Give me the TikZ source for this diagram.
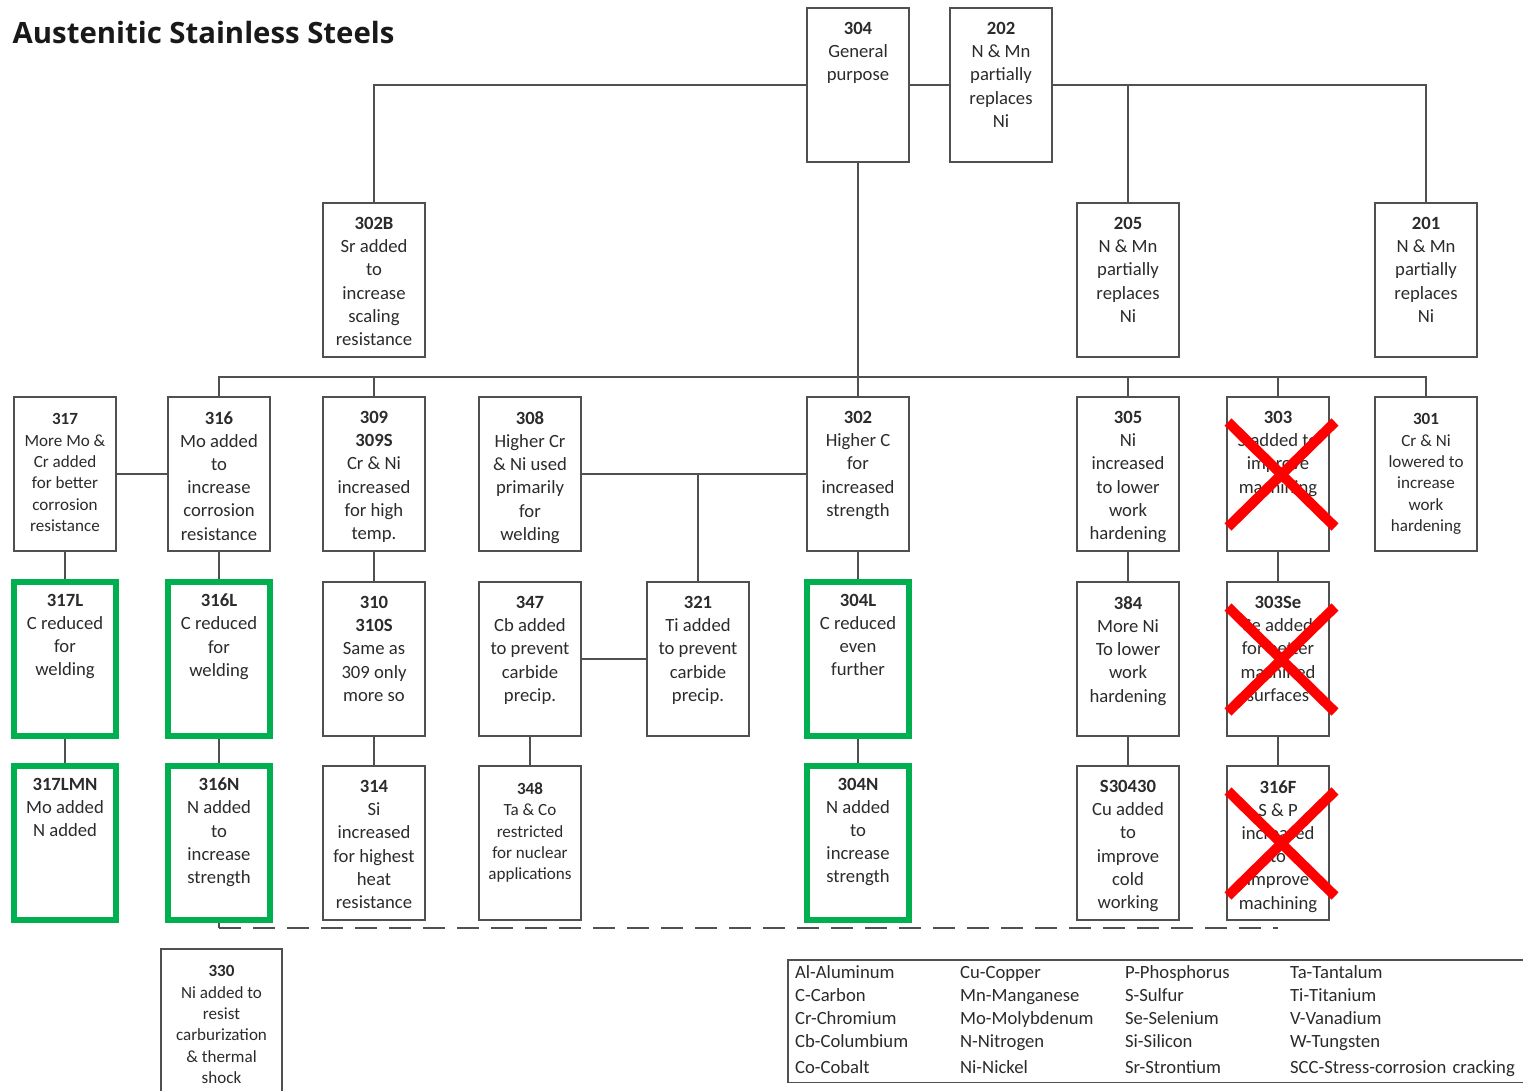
\documentclass[tikz,border=0pt]{standalone}
\usepackage{fontspec}
\setmainfont{Carlito}
\newfontfamily\titlefont{Open Sans}
\usetikzlibrary{positioning}
\definecolor{boxgray}{HTML}{505050}
\definecolor{inkgray}{HTML}{2B2B2B}
\definecolor{okgreen}{HTML}{00B050}
\tikzstyle{gradetext}=[anchor=north, align=center, inner sep=0pt, yshift=-11.25pt, text=inkgray, font=\fontsize{14}{17.4}\selectfont]
\tikzstyle{smalltext}=[anchor=north, align=center, inner sep=0pt, yshift=-13pt, text=inkgray, font=\fontsize{12.8}{16}\selectfont]
\tikzset{
  grade/.style={draw=boxgray, line width=1.4pt, minimum width=76.5pt, minimum height=115.5pt, inner sep=0pt, label={[gradetext]north:#1}},
  smallgrade/.style={draw=boxgray, line width=1.4pt, minimum width=76.5pt, minimum height=115.5pt, inner sep=0pt, label={[smalltext]north:#1}},
  okgrade/.style={draw=okgreen, line width=5pt, minimum width=76.5pt, minimum height=115.5pt, inner sep=0pt, label={[gradetext]north:#1}}
}
\tikzstyle{link}=[draw=boxgray, line width=1.1pt]
\tikzstyle{strike}=[draw=red, line width=7.5pt]

\begin{document}
\begin{tikzpicture}[x=0.75pt, y=-0.75pt]
    \useasboundingbox (0,0) rectangle (1523,1090);
    \node[anchor=west, font=\titlefont\bfseries\fontsize{22}{27}\selectfont, text=black!90] (title) at (8,32) {Austenitic Stainless Steels};
    % First we draw the grades
    \foreach \pos/\name/\sty/\txt in {
        {(858,85)/g304/grade/{\textbf{304}\\General\\purpose}},
        {(1001,85)/g202/grade/{\textbf{202}\\N \& Mn\\partially\\replaces\\Ni}},
        {(374,280)/g302B/grade/{\textbf{302B}\\Sr added\\to\\increase\\scaling\\resistance}},
        {(1128,280)/g205/grade/{\textbf{205}\\N \& Mn\\partially\\replaces\\Ni}},
        {(1426,280)/g201/grade/{\textbf{201}\\N \& Mn\\partially\\replaces\\Ni}},
        {(65,474)/g317/smallgrade/{\textbf{317}\\More Mo \&\\Cr added\\for better\\corrosion\\resistance}},
        {(219,474)/g316/grade/{\textbf{316}\\Mo added\\to\\increase\\corrosion\\resistance}},
        {(374,474)/g309/grade/{\textbf{309}\\\textbf{309S}\\Cr \& Ni\\increased\\for high\\temp.}},
        {(530,474)/g308/grade/{\textbf{308}\\Higher Cr\\\& Ni used\\primarily\\for\\welding}},
        {(858,474)/g302/grade/{\textbf{302}\\Higher C\\for\\increased\\strength}},
        {(1128,474)/g305/grade/{\textbf{305}\\Ni\\increased\\to lower\\work\\hardening}},
        {(1278,474)/g303/grade/{\textbf{303}\\S added to\\improve\\machining}},
        {(1426,474)/g301/smallgrade/{\textbf{301}\\Cr \& Ni\\lowered to\\increase\\work\\hardening}},
        {(65,659)/g317L/okgrade/{\textbf{317L}\\C reduced\\for\\welding}},
        {(219,659)/g316L/okgrade/{\textbf{316L}\\C reduced\\for\\welding}},
        {(374,659)/g310/grade/{\textbf{310}\\\textbf{310S}\\Same as\\309 only\\more so}},
        {(530,659)/g347/grade/{\textbf{347}\\Cb added\\to prevent\\carbide\\precip.}},
        {(698,659)/g321/grade/{\textbf{321}\\Ti added\\to prevent\\carbide\\precip.}},
        {(858,659)/g304L/okgrade/{\textbf{304L}\\C reduced\\even\\further}},
        {(1128,659)/g384/grade/{\textbf{384}\\More Ni\\To lower\\work\\hardening}},
        {(1278,659)/g303Se/grade/{\textbf{303Se}\\Se added\\for better\\machined\\surfaces}},
        {(65,843)/g317LMN/okgrade/{\textbf{317LMN}\\Mo added\\N added}},
        {(219,843)/g316N/okgrade/{\textbf{316N}\\N added\\to\\increase\\strength}},
        {(374,843)/g314/grade/{\textbf{314}\\Si\\increased\\for highest\\heat\\resistance}},
        {(530,843)/g348/smallgrade/{\textbf{348}\\Ta \& Co\\restricted\\for nuclear\\applications}},
        {(858,843)/g304N/okgrade/{\textbf{304N}\\N added\\to\\increase\\strength}},
        {(1128,843)/gS30430/grade/{\textbf{S30430}\\Cu added\\to\\improve\\cold\\working}},
        {(1278,843)/g316F/grade/{\textbf{316F}\\S \& P\\increased\\to\\improve\\machining}}}
        \node[\sty=\txt] (\name) at \pos {};
    \node[smallgrade={\textbf{330}\\Ni added to\\resist\\carburization\\\& thermal\\shock}, minimum width=90.75pt] (g330) at (221.5,1026) {};
    % Connect the grades
    \path[link] (g304.west) -| (g302B.north);
    \path[link] (g304.east) -- (g202.west);
    \path[link] (g202.east) -| (g205.north);
    \path[link] (g202.east) -| (g201.north);
    \path[link] (g304.south) -- (g302.north);
    \coordinate (midbus) at (858,377);
    \foreach \dest in {g316, g309, g305, g303, g301}
        \path[link] (midbus) -| (\dest.north);
    \foreach \source/\dest in {g317/g316, g308/g302, g347/g321}
        \path[link] (\source.east) -- (\dest.west);
    \path[link] (g321.north) -- (g321.north |- g302.west);
    \foreach \source/\dest in {g317/g317L, g317L/g317LMN, g316/g316L, g316L/g316N, g309/g310, g310/g314, g347/g348, g302/g304L, g304L/g304N, g305/g384, g384/gS30430, g303/g303Se, g303Se/g316F}
        \path[link] (\source.south) -- (\dest.north);
    \coordinate (dashturn) at (219,928);
    \coordinate (dashend) at (1278,928);
    \path[link] (g316N.south) -- (dashturn);
    \path[link, dash pattern=on 16.5pt off 9pt] (dashturn) -- (dashend);
    % Strike out the dropped grades
    \foreach \name in {g303, g303Se, g316F} {
        \path[strike] ([shift={(-50,-52)}]\name.center) -- ([shift={(57,53)}]\name.center);
        \path[strike] ([shift={(-50,53)}]\name.center) -- ([shift={(57,-52)}]\name.center);
    }
    % Element key
    \node[draw=boxgray, line width=1.2pt, anchor=north west, minimum width=570pt, minimum height=92pt, text width=559pt, inner xsep=4.5pt, inner ysep=0pt, align=left, text=inkgray, font=\fontsize{14}{17.4}\selectfont] (legend) at (787,959) {%
        \begin{tabular}{@{}p{111.75pt}p{111.75pt}p{111.75pt}l@{}}
        Al-Aluminum & Cu-Copper & P-Phosphorus & Ta-Tantalum\\
        C-Carbon & Mn-Manganese & S-Sulfur & Ti-Titanium\\
        Cr-Chromium & Mo-Molybdenum & Se-Selenium & V-Vanadium\\
        Cb-Columbium & N-Nitrogen & Si-Silicon & W-Tungsten\\[2pt]
        Co-Cobalt & Ni-Nickel & Sr-Strontium & SCC-Stress-corrosion cracking
        \end{tabular}};
\end{tikzpicture}
\end{document}
